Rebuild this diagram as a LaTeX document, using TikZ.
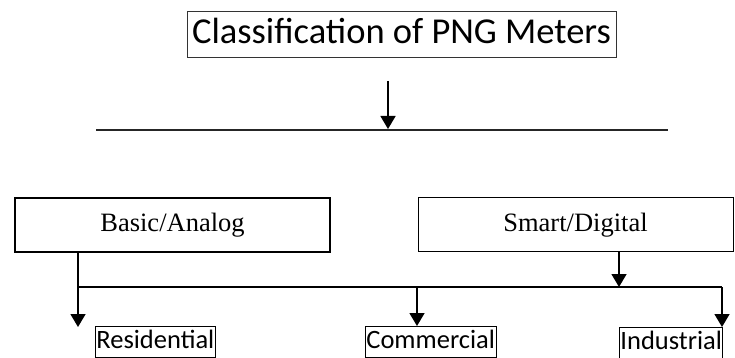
\documentclass[tikz,border=0pt]{standalone}
\usepackage{fontspec}
\setmainfont{Liberation Serif}
\newfontfamily\calib{Carlito}
\usetikzlibrary{arrows.meta}
\begin{document}
\begin{tikzpicture}[x=1pt,y=-1pt,
  titlebox/.style={draw=black!80,line width=0.9pt,font=\calib\fontsize{36.5}{40}\selectfont,inner sep=0pt,minimum width=429pt,minimum height=46pt,text height=27pt,text depth=8pt},
  typebox/.style={draw=black,font=\fontsize{26.5}{28}\selectfont,inner sep=0pt,minimum width=315pt,minimum height=54pt,text height=19pt,text depth=6pt},
  labelbox/.style={draw=black,line width=0.8pt,font=\calib\fontsize{26.5}{28}\selectfont,inner xsep=1pt,inner ysep=2pt,anchor=north west,text height=20pt,text depth=7pt},
  arr/.style={line width=1.5pt,-{Triangle[width=15pt,length=13pt]}},
  bus/.style={line width=1.5pt}]
\useasboundingbox (0,0) rectangle (735,358);
\fill[white] (0,0) rectangle (735,358);
\node[titlebox] (title) at (401.5,34) {Classification of PNG Meters};
\coordinate (a1) at (388,81);
\coordinate (a2) at (388,129);
\coordinate (l1) at (96,130);
\coordinate (l2) at (668,130);
\draw[arr] (a1) -- (a2);
\draw[line width=1.2pt,black!85] (l1) -- (l2);
\node[typebox,line width=2pt] (basic) at (172.5,225) {Basic/Analog};
\node[typebox,line width=1pt] (smart) at (575.5,224.5) {Smart/Digital};
\node[labelbox,minimum width=118pt] (res) at (95,326) {Residential};
\node[labelbox,minimum width=128pt] (com) at (365,326) {Commercial};
\node[labelbox,minimum width=103pt] (ind) at (619,327) {Industrial};
\coordinate (jb) at (78,287);
\coordinate (rtip) at (78,327);
\coordinate (js) at (619,287);
\coordinate (jc) at (417,287);
\coordinate (jr) at (722,287);
\draw[arr] (basic.south -| jb) -- (rtip);
\draw[bus] (jb) -- (jr);
\draw[arr] (smart.south -| js) -- (js);
\draw[arr] (jc) -- (jc |- com.north);
\draw[arr] (jr) -- (jr |- ind.north);
\end{tikzpicture}
\end{document}
